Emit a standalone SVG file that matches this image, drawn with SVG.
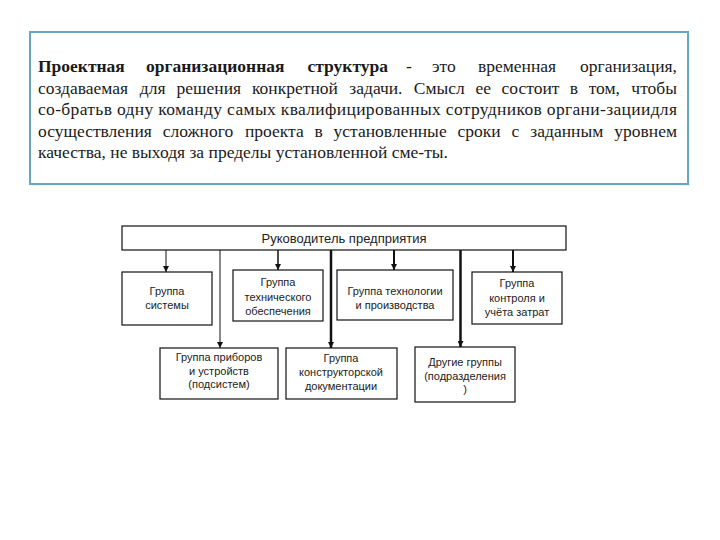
<svg xmlns="http://www.w3.org/2000/svg" width="720" height="540" viewBox="0 0 720 540">
<defs>
<style>
.para{font-family:"Liberation Serif","Times New Roman",serif;font-size:17.5px;fill:#1a1a1a}
.b{font-weight:bold}
.box{fill:#fff;stroke:#111;stroke-width:1.2}
.lbl{font-family:"Liberation Sans",Arial,sans-serif;font-size:11px;fill:#222;text-anchor:middle}
.top{font-size:13px}
.con{stroke:#111;fill:none}
</style>
<marker id="arr" viewBox="0 0 6 6" refX="6" refY="3" markerWidth="6" markerHeight="6" markerUnits="userSpaceOnUse" orient="auto">
<path d="M0,0 L6,3 L0,6 Z" fill="#111"/>
</marker>
</defs>
<rect width="720" height="540" fill="#fff"/>

<g id="textbox">
<rect x="32" y="34" width="658" height="152" fill="#eef2f4"/>
<rect x="30" y="32" width="658" height="152" fill="#fff" stroke="#6aa5c4" stroke-width="2"/>
<text class="para b" y="72"><tspan x="38">Проектная</tspan><tspan x="146">организационная</tspan><tspan x="307.5">структура</tspan></text>
<text class="para" y="72"><tspan x="406">-</tspan><tspan x="432">это</tspan><tspan x="478">временная</tspan></text>
<text class="para" y="72" x="677" text-anchor="end">организация,</text>
<text class="para" y="93.5"><tspan x="38">создаваемая</tspan><tspan x="139.8">для</tspan><tspan x="176.5">решения</tspan><tspan x="252">конкретной</tspan><tspan x="349.3">задачи.</tspan><tspan x="413.8">Смысл</tspan><tspan x="475.4">ее</tspan><tspan x="501.5">состоит</tspan><tspan x="569.8">в</tspan><tspan x="588.7">том,</tspan></text>
<text class="para" y="93.5" x="677" text-anchor="end">чтобы</text>
<text class="para" y="115" x="38" textLength="639" lengthAdjust="spacing">со-братьв одну команду самых квалифицированных сотрудников органи-зациидля</text>
<text class="para" y="136.5"><tspan x="38">осуществления</tspan><tspan x="162.7">сложного</tspan><tspan x="245">проекта</tspan><tspan x="314.4">в</tspan><tspan x="333.6">установленные</tspan><tspan x="457.6">сроки</tspan><tspan x="511.6">с</tspan><tspan x="530.3">заданным</tspan></text>
<text class="para" y="136.5" x="677" text-anchor="end">уровнем</text>
<text class="para" y="158" x="38">качества, не выходя за пределы установленной сме-ты.</text>
</g>

<g id="connectors">
<line class="con" x1="166" y1="250" x2="166" y2="272" stroke-width="1" marker-end="url(#arr)"/>
<line class="con" x1="220" y1="250" x2="220" y2="348" stroke-width="1" marker-end="url(#arr)"/>
<line class="con" x1="278" y1="250" x2="278" y2="270" stroke-width="1.5" marker-end="url(#arr)"/>
<line class="con" x1="331" y1="250" x2="331" y2="348" stroke-width="2.5" marker-end="url(#arr)"/>
<line class="con" x1="394" y1="250" x2="394" y2="270" stroke-width="2" marker-end="url(#arr)"/>
<line class="con" x1="460.5" y1="250" x2="460.5" y2="347" stroke-width="2.5" marker-end="url(#arr)"/>
<line class="con" x1="513" y1="250" x2="513" y2="272" stroke-width="2" marker-end="url(#arr)"/>
</g>

<g id="n-head">
<rect class="box" x="122" y="226" width="444" height="24"/>
<text class="lbl top" x="344" y="243">Руководитель предприятия</text>
</g>
<g id="n-sys">
<rect class="box" x="122" y="272" width="90" height="53"/>
<text class="lbl" x="167" y="295">Группа</text>
<text class="lbl" x="167" y="309">системы</text>
</g>
<g id="n-tech">
<rect class="box" x="233" y="270" width="90" height="51"/>
<text class="lbl" x="278" y="286">Группа</text>
<text class="lbl" x="278" y="300.5">технического</text>
<text class="lbl" x="278" y="315">обеспечения</text>
</g>
<g id="n-prod">
<rect class="box" x="337" y="270" width="116" height="50"/>
<text class="lbl" x="395" y="295">Группа технологии</text>
<text class="lbl" x="395" y="308.5">и производства</text>
</g>
<g id="n-ctrl">
<rect class="box" x="472" y="272" width="90" height="52"/>
<text class="lbl" x="517" y="287">Группа</text>
<text class="lbl" x="517" y="302">контроля и</text>
<text class="lbl" x="517" y="316">учёта затрат</text>
</g>
<g id="n-dev">
<rect class="box" x="160" y="348" width="118" height="51"/>
<text class="lbl" x="219" y="361">Группа приборов</text>
<text class="lbl" x="219" y="374.5">и устройств</text>
<text class="lbl" x="219" y="388">(подсистем)</text>
</g>
<g id="n-doc">
<rect class="box" x="286" y="348" width="111" height="51"/>
<text class="lbl" x="341" y="362">Группа</text>
<text class="lbl" x="341" y="376">конструкторской</text>
<text class="lbl" x="341" y="390">документации</text>
</g>
<g id="n-other">
<rect class="box" x="415" y="347" width="100" height="55"/>
<text class="lbl" x="465" y="366">Другие группы</text>
<text class="lbl" x="465" y="379.5">(подразделения</text>
<text class="lbl" x="465" y="393">)</text>
</g>
</svg>
